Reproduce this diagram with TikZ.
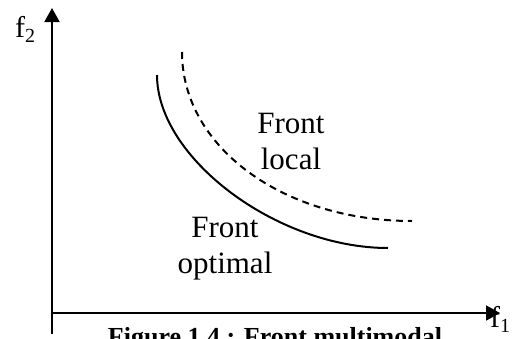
\documentclass[tikz,border=0pt]{standalone}
\usepackage{fontspec}
\setmainfont{Liberation Serif}
\usetikzlibrary{arrows.meta}
\tikzset{
  axis/.style={line width=2pt,-{Triangle[length=14pt,width=15pt]}},
  front/.style={line width=2pt},
  lbl/.style={inner sep=0pt,font=\fontsize{31}{36}\selectfont,align=center,anchor=base},
  axlbl/.style={inner sep=0pt,font=\fontsize{30}{35}\selectfont,anchor=base west},
  captionstyle/.style={inner sep=0pt,font=\fontsize{26}{30}\selectfont\bfseries,anchor=base}
}
\newcommand{\mysub}[1]{\raisebox{-5pt}{\fontsize{20}{20}\selectfont #1}}
\begin{document}
\begin{tikzpicture}[x=1pt,y=-1pt]
\useasboundingbox (0,0) rectangle (515,338);
% axes
\coordinate (vbot) at (52,334);
\coordinate (vtop) at (52,8);
\coordinate (hleft) at (52,313);
\coordinate (hright) at (500,313);
\draw[axis] (vbot) -- (vtop);
\draw[axis] (hleft) -- (hright);
% fronts
\coordinate (opt1) at (157,75);
\coordinate (opt2) at (388,248);
\coordinate (loc1) at (182,52);
\coordinate (loc2) at (412,221);
\draw[front] (opt1) .. controls (157,158) and (277,248) .. (opt2);
\draw[front,dash pattern=on 7pt off 5pt] (loc1) .. controls (182,147) and (283,221) .. (loc2);
% labels
\node[axlbl] (f2) at (15,37) {f\mysub{2}};
\node[axlbl] (f1) at (490,327) {f\mysub{1}};
\node[lbl] (local) at (291,169) {Front\\local};
\node[lbl] (optimal) at (225,273) {Front\\optimal};
\node[captionstyle] (caption) at (275,345) {Figure 1.4 : Front multimodal};
\end{tikzpicture}
\end{document}
